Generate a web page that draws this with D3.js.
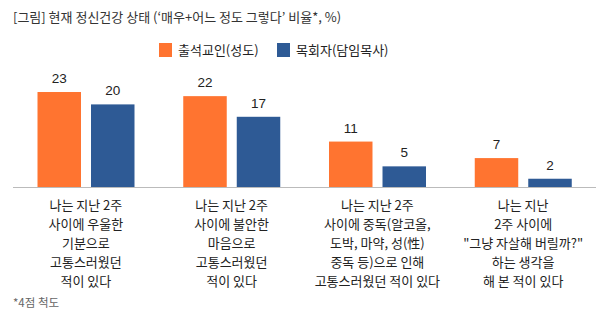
<!DOCTYPE html>
<html><head><meta charset="utf-8">
<script src="https://cdn.jsdelivr.net/npm/d3@7"></script>
<style>
body{margin:0;background:#fff;}
svg{display:block;font-family:"Noto Sans CJK KR","Noto Sans",sans-serif;}
</style></head>
<body><svg id="c" width="609" height="323"></svg>
<script>
const title = "[그림] 현재 정신건강 상태 (‘매우+어느 정도 그렇다’ 비율*, %)";
const footnote = "*4점 척도";
const seriesNames = ["출석교인(성도)", "목회자(담임목사)"];
const seriesColors = ["#FF7430", "#2E5A95"];
const categories = [
  ["나는 지난 2주", "사이에 우울한", "기분으로", "고통스러웠던", "적이 있다"],
  ["나는 지난 2주", "사이에 불안한", "마음으로", "고통스러웠던", "적이 있다"],
  ["나는 지난 2주", "사이에 중독(알코올,", "도박, 마약, 성(性)", "중독 등)으로 인해", "고통스러웠던 적이 있다"],
  ["나는 지난", "2주 사이에", "\"그냥 자살해 버릴까?\"", "하는 생각을", "해 본 적이 있다"]
];
const members = [23, 22, 11, 7];
const pastors = [20, 17, 5, 2];

const svg = d3.select("#c");
const baseY = 187, left = 13, right = 596;
const x0 = d3.scaleBand().domain(d3.range(categories.length)).range([left, right]);
const x1 = d3.scaleBand().domain([0,1]).range([24.5, 121.5]).paddingInner(0.187);
const y = d3.scaleLinear().domain([0, 25]).range([baseY, baseY - 25*4.13]);

svg.append("text").attr("x", 13).attr("y", 22).attr("font-size", 13).attr("fill", "#333").text(title);

// legend
const lg = [{x:159, tx:178},{x:277, tx:296}];
seriesNames.forEach((n,i)=>{
  svg.append("rect").attr("x", lg[i].x).attr("y", 43).attr("width", 13).attr("height", 14).attr("fill", seriesColors[i]);
  svg.append("text").attr("x", lg[i].tx).attr("y", 55).attr("font-size", 13).attr("fill", "#222").text(n);
});

const data = [members, pastors];
categories.forEach((c, ci)=>{
  data.forEach((arr, si)=>{
    const bx = x0(ci) + x1(si);
    svg.append("rect").attr("x", bx).attr("y", y(arr[ci])).attr("width", x1.bandwidth())
      .attr("height", baseY - y(arr[ci])).attr("fill", seriesColors[si]);
    svg.append("text").attr("x", bx + x1.bandwidth()/2).attr("y", y(arr[ci]) - 9)
      .attr("text-anchor", "middle").attr("font-size", 13.5)
      .attr("font-family", "'Liberation Sans', Arial, sans-serif").attr("fill", "#222").text(arr[ci]);
  });
  const cx = x0(ci) + x0.bandwidth()/2;
  c.forEach((line, li)=>{
    svg.append("text").attr("x", cx).attr("y", 210 + li*19).attr("text-anchor", "middle")
      .attr("font-size", 13).attr("fill", "#222").text(line);
  });
});

svg.append("line").attr("x1", left).attr("x2", right).attr("y1", baseY+0.5).attr("y2", baseY+0.5)
  .attr("stroke", "#bbb").attr("stroke-width", 1);

svg.append("text").attr("x", 13).attr("y", 307).attr("font-size", 11.5).attr("fill", "#666").text(footnote);
</script></body></html>
